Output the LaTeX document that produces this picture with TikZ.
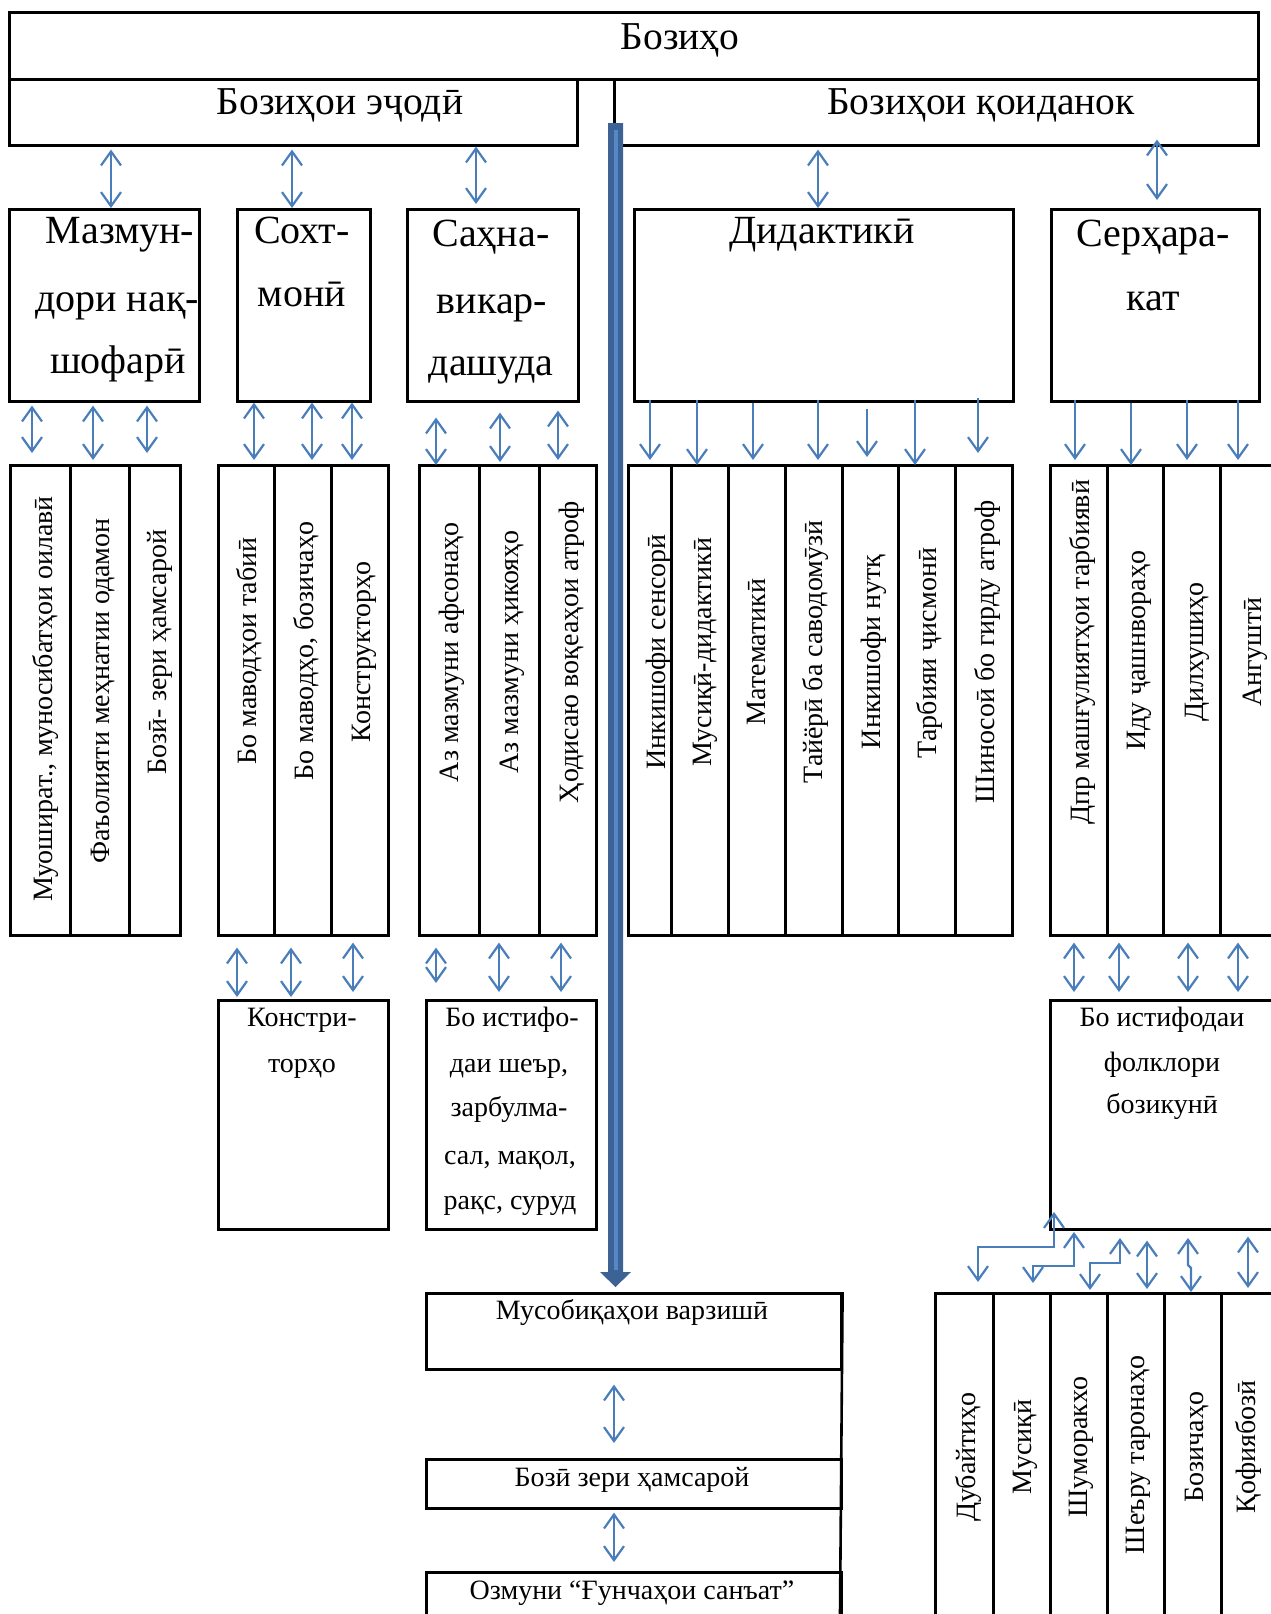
\documentclass[tikz,border=0pt]{standalone}
\usepackage{fontspec}
\setmainfont{Liberation Serif}
\usetikzlibrary{arrows.meta,calc}
\definecolor{arrblue}{RGB}{74,126,187}
\definecolor{bardark}{RGB}{60,98,150}
\definecolor{barlight}{RGB}{86,136,198}
\newcommand\bxn[5]{\node[bx, minimum width={(#4-#2)*1pt}, minimum height={(#5-#3)*1pt}] (#1) at (#2,#3) {};}
\begin{document}
\begin{tikzpicture}[x=1pt,y=-1pt,
  bx/.style={draw, line width=2.6pt, inner sep=0pt, anchor=north west},
  dbl/.style={arrblue, line width=2.2pt, {Straight Barb[length=14pt,width=20pt]}-{Straight Barb[length=14pt,width=20pt]}},
  sgl/.style={arrblue, line width=2.2pt, -{Straight Barb[length=14pt,width=20pt]}},
  lnM/.style={inner sep=0pt, font=\fontsize{39.5}{39.5}\selectfont, text height=26pt, text depth=0pt},
  lnL/.style={inner sep=0pt, font=\fontsize{40}{40}\selectfont, text height=26.4pt, text depth=0pt},
  lnS/.style={inner sep=0pt, font=\fontsize{28}{28}\selectfont, text height=18.5pt, text depth=0pt},
  rt/.style={lnS, rotate=90}]
\useasboundingbox (0,0) rectangle (1270,1614);
% ---- rows 1-2
\bxn{top}{8}{11}{1257}{78}
\bxn{ejodi}{8}{78}{576}{144}
\bxn{koid}{613}{78}{1257}{144}
\node[lnM] (ttop) at (680,36) {Бозиҳо};
\node[lnM] (tejodi) at (340,101) {Бозиҳои эҷодӣ};
\node[lnM] (tkoid) at (981,101) {Бозиҳои қоиданок};
% ---- row 3
\bxn{mazmun}{8}{208}{198}{400}
\bxn{soxt}{236}{208}{369}{400}
\bxn{sahna}{406}{208}{577}{400}
\bxn{didak}{633}{208}{1012}{400}
\bxn{serh}{1050}{208}{1258}{400}
\node[lnL] (tm1) at (120,230) {Мазмун-};
\node[lnL] (tm2) at (117,298) {дори нақ-};
\node[lnL] (tm3) at (118,360) {шофарӣ};
\node[lnL] (ts1) at (302,230) {Сохт-};
\node[lnL] (ts2) at (302,293) {монӣ};
\node[lnL] (tc1) at (491,233) {Саҳна-};
\node[lnL] (tc2) at (492,300) {викар-};
\node[lnL] (tc3) at (491,362) {дашуда};
\node[lnL] (td1) at (822,230) {Дидактикӣ};
\node[lnL] (te1) at (1153,233) {Серҳара-};
\node[lnL] (te2) at (1153,297) {кат};
% ---- row 4 cells
\bxn{a1}{9}{464}{69}{934}   \bxn{a2}{69}{464}{128}{934}  \bxn{a3}{128}{464}{179}{934}
\bxn{b1}{217}{464}{273}{934} \bxn{b2}{273}{464}{330}{934} \bxn{b3}{330}{464}{387}{934}
\bxn{c1}{418}{464}{478}{934} \bxn{c2}{478}{464}{538}{934} \bxn{c3}{538}{464}{595}{934}
\bxn{d1}{627}{464}{670}{934} \bxn{d2}{670}{464}{727}{934} \bxn{d3}{727}{464}{784}{934}
\bxn{d4}{784}{464}{841}{934} \bxn{d5}{841}{464}{897}{934} \bxn{d6}{897}{464}{954}{934}
\bxn{d7}{954}{464}{1011}{934}
\bxn{e1}{1049}{464}{1106}{934} \bxn{e2}{1106}{464}{1162}{934} \bxn{e3}{1162}{464}{1219}{934}
\bxn{e4}{1219}{464}{1276}{934}
\node[rt] (ta1) at (43,699) {Муошират., муносибатҳои оилавӣ};
\node[rt] (ta2) at (100,691) {Фаъолияти меҳнатии одамон};
\node[rt] (ta3) at (157,652) {Бозӣ- зери ҳамсарой};
\node[rt] (tb1) at (247,651) {Бо маводҳои табиӣ};
\node[rt] (tb2) at (304,651) {Бо маводҳо, бозичаҳо};
\node[rt] (tb3) at (361,652) {Конструкторҳо};
\node[rt] (tc1r) at (449,652) {Аз мазмуни афсонаҳо};
\node[rt] (tc2r) at (509,652) {Аз мазмуни ҳикояҳо};
\node[rt] (tc3r) at (569,652) {Ҳодисаю воқеаҳои атроф};
\node[rt] (td1r) at (656,652) {Инкишофи сенсорӣ};
\node[rt] (td2r) at (702,652) {Мусиқӣ-дидактикӣ};
\node[rt] (td3r) at (756,652) {Математикӣ};
\node[rt] (td4r) at (813,652) {Тайёрӣ ба саводомӯзӣ};
\node[rt] (td5r) at (871,652) {Инкишофи нутқ};
\node[rt] (td6r) at (927,653) {Тарбияи ҷисмонӣ};
\node[rt] (td7r) at (985,652) {Шиносоӣ бо гирду атроф};
\node[rt] (te1r) at (1080,652) {Дпр машғулиятҳои тарбиявӣ};
\node[rt] (te2r) at (1136,651) {Иду ҷашнвораҳо};
\node[rt] (te3r) at (1194,652) {Дилхушиҳо};
\node[rt] (te4r) at (1252,652) {Ангуштӣ};
% ---- row 5
\bxn{konst}{217}{999}{387}{1228}
\bxn{istif}{425}{999}{595}{1228}
\bxn{folk}{1049}{999}{1290}{1228}
\node[lnS] (tk1) at (302,1017) {Констри-};
\node[lnS] (tk2) at (302,1063) {торҳо};
\node[lnS] (ti1) at (512,1017) {Бо истифо-};
\node[lnS] (ti2) at (509,1063) {даи шеър,};
\node[lnS] (ti3) at (509,1107) {зарбулма-};
\node[lnS] (ti4) at (510,1155) {сал, мақол,};
\node[lnS] (ti5) at (510,1200) {рақс, суруд};
\node[lnS] (tf1) at (1162,1017) {Бо истифодаи};
\node[lnS] (tf2) at (1162,1062) {фолклори};
\node[lnS] (tf3) at (1162,1104) {бозикунӣ};
% ---- bottom stack
\bxn{musob}{425}{1292}{840}{1368}
\bxn{bozi}{425}{1458}{840}{1507}
\bxn{ozmun}{425}{1571}{840}{1640}
\coordinate (stackend) at (840,1614);
\draw[line width=2.6pt] (musob.north east) -- (stackend);
\node[lnS] (tmu) at (632,1310) {Мусобиқаҳои варзишӣ};
\node[lnS] (tbo) at (632,1477) {Бозӣ зери ҳамсарой};
\node[lnS] (toz) at (632,1590) {Озмуни “Ғунчаҳои санъат”};
% ---- row 6
\bxn{f1}{934}{1292}{992}{1640}  \bxn{f2}{992}{1292}{1049}{1640}
\bxn{f3}{1049}{1292}{1106}{1640} \bxn{f4}{1106}{1292}{1163}{1640}
\bxn{f5}{1163}{1292}{1220}{1640} \bxn{f6}{1220}{1292}{1277}{1640}
\node[rt] (tf1r) at (966,1457) {Дубайтиҳо};
\node[rt] (tf2r) at (1022,1447) {Мусиқӣ};
\node[rt] (tf3r) at (1078,1447) {Шуморакхо};
\node[rt] (tf4r) at (1135,1455) {Шеъру таронаҳо};
\node[rt] (tf5r) at (1194,1447) {Бозичаҳо};
\node[rt] (tf6r) at (1246,1447) {Қофиябозӣ};
% ---- blue bar
\coordinate (bartop) at (615.5,123);
\coordinate (bartip) at (615.5,1287);
\fill[bardark] ($(bartop)+(-7.5,0)$) -- ($(bartop)+(7.5,0)$) -- ($(bartip)+(7.5,-15)$) -- ($(bartip)+(15.5,-15)$) -- (bartip) -- ($(bartip)+(-15.5,-15)$) -- ($(bartip)+(-7.5,-15)$) -- cycle;
\draw[barlight, line width=4pt] ($(bartop)+(0,7)$) -- ($(bartip)+(0,-17)$);
% ---- arrows row2 -> row3
\draw[dbl, shorten <=3pt] (ejodi.south -| 111,0) -- (mazmun.north -| 111,0);
\draw[dbl, shorten <=3pt] (ejodi.south -| 292,0) -- (soxt.north -| 292,0);
\draw[dbl, shorten >=4pt] (ejodi.south -| 476,0) -- (sahna.north -| 476,0);
\draw[dbl, shorten <=3pt] (koid.south -| 818,0) -- (didak.north -| 818,0);
\draw[dbl, shorten <=-7pt, shorten >=8pt] (koid.south -| 1157,0) -- (serh.north -| 1157,0);
% ---- arrows row3 -> row4
\draw[dbl, shorten <=3pt, shorten >=11pt] (mazmun.south -| 32,0) -- (a1.north -| 32,0);
\draw[dbl, shorten <=3pt, shorten >=4pt] (mazmun.south -| 93,0) -- (a2.north -| 93,0);
\draw[dbl, shorten <=3pt, shorten >=11pt] (mazmun.south -| 147,0) -- (a3.north -| 147,0);
\draw[dbl, shorten >=4pt] (soxt.south -| 254,0) -- (b1.north -| 254,0);
\draw[dbl, shorten >=4pt] (soxt.south -| 312,0) -- (b2.north -| 312,0);
\draw[dbl, shorten >=4pt] (soxt.south -| 352,0) -- (b3.north -| 352,0);
\draw[dbl, shorten <=15pt, shorten >=-1pt] (sahna.south -| 436,0) -- (c1.north -| 436,0);
\draw[dbl, shorten <=10pt, shorten >=2pt] (sahna.south -| 500,0) -- (c2.north -| 500,0);
\draw[dbl, shorten <=8pt, shorten >=4pt] (sahna.south -| 558,0) -- (c3.north -| 558,0);
\draw[sgl, shorten <=-3pt, shorten >=4pt] (didak.south -| 650,0) -- (d1.north -| 650,0);
\draw[sgl, shorten <=-3pt, shorten >=-1pt] (didak.south -| 697,0) -- (d2.north -| 697,0);
\draw[sgl, shorten >=4pt] (didak.south -| 753,0) -- (d3.north -| 753,0);
\draw[sgl, shorten <=-3pt, shorten >=4pt] (didak.south -| 818,0) -- (d4.north -| 818,0);
\draw[sgl, shorten <=6pt, shorten >=7pt] (didak.south -| 867,0) -- (d5.north -| 867,0);
\draw[sgl, shorten <=-3pt, shorten >=-1pt] (didak.south -| 915,0) -- (d6.north -| 915,0);
\draw[sgl, shorten <=-5pt, shorten >=11pt] (didak.south -| 978,0) -- (d7.north -| 978,0);
\draw[sgl, shorten <=-3pt, shorten >=4pt] (serh.south -| 1075,0) -- (e1.north -| 1075,0);
\draw[sgl, shorten >=-1pt] (serh.south -| 1131,0) -- (e2.north -| 1131,0);
\draw[sgl, shorten <=-3pt, shorten >=4pt] (serh.south -| 1187,0) -- (e3.north -| 1187,0);
\draw[sgl, shorten <=-3pt, shorten >=4pt] (serh.south -| 1238,0) -- (e4.north -| 1238,0);
% ---- arrows row4 -> row5
\draw[dbl, shorten <=11pt, shorten >=2pt] (b1.south -| 237,0) -- (konst.north -| 237,0);
\draw[dbl, shorten <=11pt, shorten >=2pt] (b2.south -| 291,0) -- (konst.north -| 291,0);
\draw[dbl, shorten <=6pt, shorten >=7pt] (b3.south -| 353,0) -- (konst.north -| 353,0);
\draw[dbl, shorten <=11pt, shorten >=16pt] (c1.south -| 436,0) -- (istif.north -| 436,0);
\draw[dbl, shorten <=6pt, shorten >=7pt] (c2.south -| 499,0) -- (istif.north -| 499,0);
\draw[dbl, shorten <=6pt, shorten >=7pt] (c3.south -| 561,0) -- (istif.north -| 561,0);
\draw[dbl, shorten <=6pt, shorten >=7pt] (e1.south -| 1074,0) -- (folk.north -| 1074,0);
\draw[dbl, shorten <=6pt, shorten >=7pt] (e2.south -| 1119,0) -- (folk.north -| 1119,0);
\draw[dbl, shorten <=6pt, shorten >=7pt] (e3.south -| 1188,0) -- (folk.north -| 1188,0);
\draw[dbl, shorten <=6pt, shorten >=7pt] (e4.south -| 1238,0) -- (folk.north -| 1238,0);
% ---- bottom stack arrows
\draw[dbl, shorten <=14pt, shorten >=15pt] (musob.south -| 614,0) -- (bozi.north -| 614,0);
\draw[dbl, shorten <=3pt, shorten >=9pt] (bozi.south -| 614,0) -- (ozmun.north -| 614,0);
% ---- folk -> row 6
\coordinate (k1a) at (1054,1212); \coordinate (k1b) at (978,1282);
\coordinate (k2a) at (1074,1232); \coordinate (k2b) at (1033,1283);
\coordinate (k3a) at (1120,1238); \coordinate (k3b) at (1090,1290);
\coordinate (k5a) at (1188,1238); \coordinate (k5b) at (1191,1292);
\draw[dbl] (k1a) -- (1054,1247) -- (978,1247) -- (k1b);
\draw[dbl] (k2a) -- (1074,1266) -- (1033,1266) -- (k2b);
\draw[dbl] (k3a) -- (1120,1263) -- (1090,1263) -- (k3b);
\draw[dbl, shorten <=10pt, shorten >=3pt] (folk.south -| 1147,0) -- (f4.north -| 1147,0);
\draw[dbl] (k5a) -- (1188,1265) -- (1191,1268) -- (k5b);
\draw[dbl, shorten <=6pt, shorten >=4pt] (folk.south -| 1248,0) -- (f6.north -| 1248,0);
\end{tikzpicture}
\end{document}
